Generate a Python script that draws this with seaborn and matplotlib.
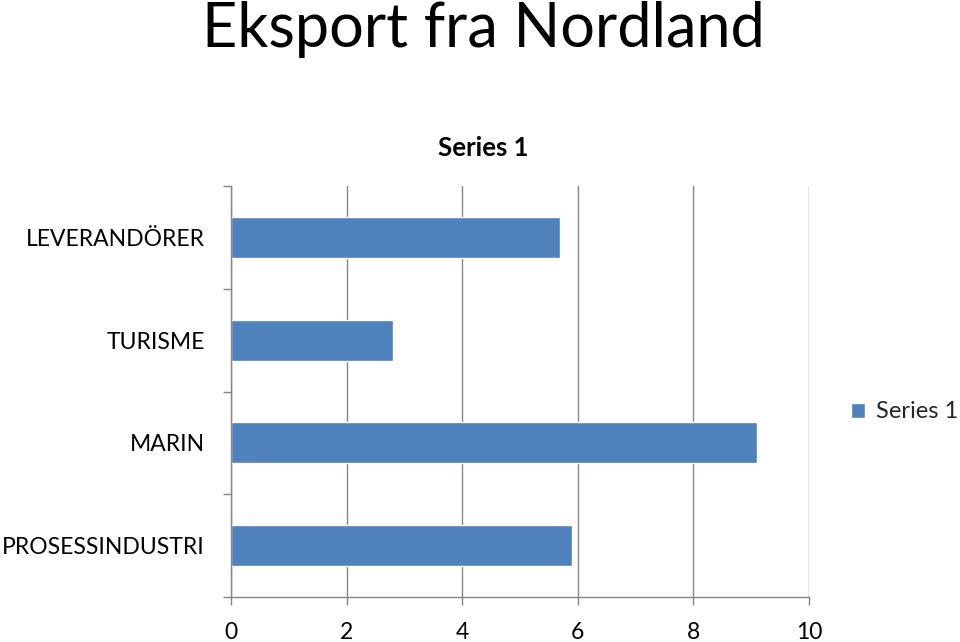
import matplotlib
matplotlib.use("Agg")
import matplotlib.pyplot as plt
import seaborn as sns
import pandas as pd

categories = ["LEVERANDÖRER", "TURISME", "MARIN", "PROSESSINDUSTRI"]
values = [5.7, 2.8, 9.1, 5.9]
series_name = "Series 1"
x_ticks = [0, 2, 4, 6, 8, 10]
main_title = "Eksport fra Nordland"

df = pd.DataFrame({"category": categories, "value": values, "series": series_name})

sns.set_theme(style="white")
plt.rcParams["font.family"] = ["Lato", "DejaVu Sans"]

W, H = 960, 642
fig = plt.figure(figsize=(W / 100, H / 100), dpi=100)
ax = fig.add_axes([231 / W, 1 - 597 / H, (809 - 231) / W, (597 - 186) / H])

sns.barplot(data=df, x="value", y="category", hue="series", palette=["#4F81BD"],
            width=0.4, orient="h", ax=ax, saturation=1, legend=True)

grey = "#868686"
ax.set_xlim(0, 10)
ax.set_ylim(len(categories) - 0.5, -0.5)
ax.set_xticks(x_ticks)
ax.set_xticklabels([str(t) for t in x_ticks])
ax.set_yticks(range(len(categories)))
ax.set_yticklabels(categories)
ax.set_yticks([i - 0.5 for i in range(len(categories) + 1)], minor=True)
ax.set_xlabel("")
ax.set_ylabel("")

ax.xaxis.grid(True, color=grey, linewidth=1)
ax.yaxis.grid(False)
ax.set_axisbelow(True)
for s in ["top", "right"]:
    ax.spines[s].set_visible(False)
for s in ["left", "bottom"]:
    ax.spines[s].set_color(grey)
    ax.spines[s].set_linewidth(1)

ax.tick_params(axis="y", which="major", length=0, pad=19, labelsize=16.5, labelcolor="black")
ax.tick_params(axis="y", which="minor", left=True, length=6, width=1, color=grey)
ax.tick_params(axis="x", which="major", bottom=True, length=6, width=1, color=grey,
               pad=12, labelsize=16.5, labelcolor="black")

handles, labels = ax.get_legend_handles_labels()
ax.legend(handles, labels, loc="center left", bbox_to_anchor=(851 / W, 1 - 412 / H),
          bbox_transform=fig.transFigure, frameon=False, fontsize=17,
          handlelength=0.6, handleheight=0.6, handletextpad=0.45,
          borderpad=0, borderaxespad=0)

fig.text(483 / W, 1 - 30 / H, main_title, ha="center", va="center", fontsize=44, color="black")
fig.text(483 / W, 1 - 148 / H, series_name, ha="center", va="center", fontsize=18.5,
         fontweight="bold", color="black")

fig.savefig("out.png", dpi=100, facecolor="white")
